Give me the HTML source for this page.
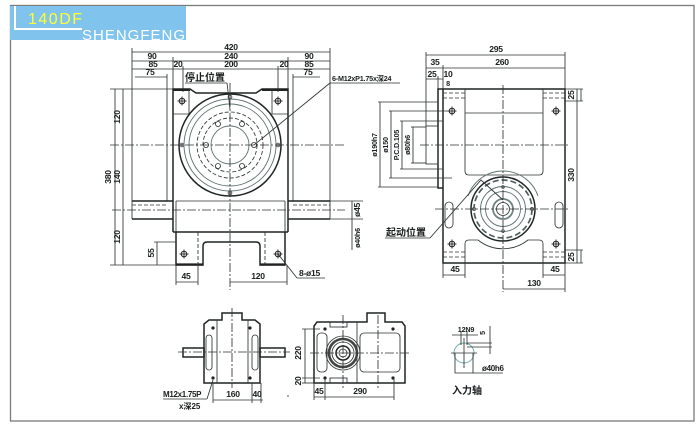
<!DOCTYPE html>
<html><head><meta charset="utf-8">
<style>
html,body{margin:0;padding:0;background:#fff;}
svg{display:block;}
text{font-family:"Liberation Sans","Noto Sans CJK SC",sans-serif;fill:#1a1e1e;}
.d{font-size:8.6px;font-weight:bold;letter-spacing:-0.3px;}
.s{font-size:7.2px;font-weight:bold;letter-spacing:-0.2px;}
.cj{font-size:10px;font-weight:bold;}
.o{stroke:#1e2524;stroke-width:1.5;fill:none;}
.t{stroke:#2c3332;stroke-width:0.85;fill:none;}
.g{stroke:#5d7270;stroke-width:0.9;fill:none;}
.c{stroke:#2c3332;stroke-width:0.85;fill:none;stroke-dasharray:9 2 2 2;}
.h{stroke:#2c3332;stroke-width:0.85;fill:none;stroke-dasharray:4 2;}
</style></head><body>
<svg width="700" height="432" viewBox="0 0 700 432" xmlns="http://www.w3.org/2000/svg">
<defs>
<g id="b"><circle cx="0" cy="0" r="2.8" fill="none" stroke="#222" stroke-width="1"/><line x1="-4.5" y1="0" x2="4.5" y2="0" stroke="#222" stroke-width="0.9"/><line x1="0" y1="-4.5" x2="0" y2="4.5" stroke="#222" stroke-width="0.9"/></g>
</defs>
<rect x="10.5" y="5.5" width="683.5" height="415.5" fill="none" stroke="#7a7a7a" stroke-width="1.3"/>
<!-- title -->
<rect x="10" y="6" width="176" height="34" fill="#80c4ee"/>
<path d="M15,6 L15,29 L82,29" fill="none" stroke="#fff" stroke-width="2"/>
<text x="28" y="24" style="font-size:16px;letter-spacing:1.5px;fill:#ffff2e">140DF</text>
<text x="82" y="40" style="font-size:15px;letter-spacing:1px;fill:#fff">SHENGFENG</text>

<!-- ===== FRONT VIEW ===== -->
<g class="t">
<line x1="132" y1="52" x2="330" y2="52"/>
<line x1="132" y1="61" x2="330" y2="61"/>
<line x1="132" y1="69" x2="330" y2="69"/>
<line x1="135" y1="77" x2="167" y2="77"/>
<line x1="293" y1="77" x2="320" y2="77"/>
<line x1="132" y1="48" x2="132" y2="219"/>
<line x1="330" y1="48" x2="330" y2="219"/>
<line x1="173" y1="57" x2="173" y2="89"/>
<line x1="288" y1="57" x2="288" y2="89"/>
<line x1="183" y1="66" x2="183" y2="92"/>
<line x1="278" y1="66" x2="278" y2="92"/>
<line x1="167" y1="74" x2="167" y2="201"/>
<line x1="293" y1="74" x2="293" y2="201"/>
</g>
<g class="d" text-anchor="middle">
<text x="231" y="50">420</text>
<text x="152" y="59">90</text><text x="231" y="59">240</text><text x="309" y="59">90</text>
<text x="153" y="67">85</text><text x="178" y="67">20</text><text x="231" y="67">200</text><text x="284" y="67">20</text><text x="309" y="67">85</text>
<text x="150" y="75">75</text><text x="308" y="75">75</text>
</g>
<!-- body -->
<path class="o" d="M173,232 L173,89 L190,89 L196,93 L256,93 L262,89 L288,89 L288,232"/>
<line x1="173" y1="90" x2="190" y2="90" stroke="#222" stroke-width="2"/>
<line x1="262" y1="90" x2="288" y2="90" stroke="#222" stroke-width="2"/>
<path class="t" d="M189,89 L189,114 L173,114 M272,89 L272,114 L288,114"/>
<use href="#b" x="182" y="101"/>
<use href="#b" x="278" y="101"/>
<circle class="o" cx="230" cy="145" r="51"/>
<circle class="g" cx="230" cy="145" r="46"/>
<circle class="g" cx="230" cy="145" r="41"/>
<circle class="h" cx="230" cy="145" r="33"/>
<circle class="h" cx="230" cy="145" r="27"/>
<circle class="g" cx="230" cy="145" r="19"/>
<g class="t" stroke-width="1.1">
<circle cx="218" cy="124" r="2.5"/><circle cx="242" cy="124" r="2.5"/>
<circle cx="206" cy="145" r="2.5"/><circle cx="254" cy="145" r="2.5"/>
<circle cx="218" cy="166" r="2.5"/><circle cx="242" cy="166" r="2.5"/>
</g>
<g fill="#999" stroke="#444" stroke-width="0.6">
<circle cx="182" cy="145" r="2"/><circle cx="278" cy="145" r="2"/>
<circle cx="230" cy="97" r="2"/><circle cx="230" cy="193" r="2"/>
</g>
<line class="c" x1="110" y1="145" x2="345" y2="145"/>
<line class="c" x1="230" y1="83" x2="230" y2="290"/>
<!-- band -->
<g class="o">
<line x1="132" y1="201" x2="173" y2="201"/><line x1="288" y1="201" x2="330" y2="201"/>
<line x1="132" y1="219" x2="173" y2="219"/><line x1="288" y1="219" x2="330" y2="219"/>
</g>
<line class="t" x1="176" y1="201" x2="285" y2="201"/>
<line class="t" x1="176" y1="201" x2="176" y2="232"/>
<line class="t" x1="285" y1="201" x2="285" y2="232"/>
<line class="h" x1="132" y1="205" x2="167" y2="205"/>
<line class="h" x1="293" y1="205" x2="330" y2="205"/>
<line class="c" x1="112" y1="210" x2="345" y2="210"/>
<!-- base -->
<line class="o" x1="173" y1="232" x2="288" y2="232"/>
<path class="o" d="M176,232 L176,265 L203,265 L203,246 Q203,242 207,242 L256,242 Q260,242 260,246 L260,265 L285,265 L285,232"/>
<line x1="176" y1="264.5" x2="203" y2="264.5" stroke="#222" stroke-width="2.2"/>
<line x1="260" y1="264.5" x2="285" y2="264.5" stroke="#222" stroke-width="2.2"/>
<line class="h" x1="198" y1="232" x2="198" y2="265"/>
<line class="h" x1="265" y1="232" x2="265" y2="265"/>
<use href="#b" x="184" y="254"/>
<use href="#b" x="278" y="254"/>
<!-- left dims -->
<g class="t">
<line x1="115" y1="89" x2="115" y2="265"/>
<line x1="123" y1="89" x2="123" y2="265"/>
<line x1="110" y1="89" x2="173" y2="89"/>
<line x1="110" y1="265" x2="176" y2="265"/>
<line x1="157" y1="242" x2="157" y2="265"/>
<line x1="154" y1="242" x2="176" y2="242"/>
<line x1="176" y1="265" x2="176" y2="285"/>
<line x1="198" y1="265" x2="198" y2="285"/>
<line x1="287" y1="265" x2="287" y2="285"/>
<line x1="176" y1="282" x2="198" y2="282"/>
<line x1="230" y1="282" x2="287" y2="282"/>
<line x1="278" y1="254" x2="297" y2="278"/>
<line x1="297" y1="278" x2="325" y2="278"/>
<line x1="330" y1="201" x2="363" y2="201"/>
<line x1="330" y1="219" x2="363" y2="219"/>
<line x1="352" y1="201" x2="352" y2="250"/>
<line x1="254" y1="145" x2="330" y2="83"/>
<line x1="330" y1="83" x2="400" y2="83"/>
<line x1="185" y1="83" x2="227" y2="83"/>
<path d="M227,83 L229,100 L230,110"/>
</g>
<g class="d" text-anchor="middle">
<text transform="translate(111,177) rotate(-90)">380</text>
<text transform="translate(120,117) rotate(-90)">120</text>
<text transform="translate(120,177) rotate(-90)">140</text>
<text transform="translate(120,237) rotate(-90)">120</text>
<text transform="translate(154,253) rotate(-90)">55</text>
<text x="186" y="279">45</text>
<text x="258" y="279">120</text>
<text transform="translate(360,210) rotate(-90)">ø45</text>
<text transform="translate(360,238) rotate(-90)" class="s">ø40h6</text>
</g>
<text x="299" y="276" class="d">8-ø15</text>
<text x="332" y="81" style="font-size:7.2px;font-weight:bold;letter-spacing:-0.2px">6-M12xP1.75x深24</text>
<text x="185" y="81" class="cj">停止位置</text>

<!-- ===== SIDE VIEW ===== -->
<rect class="o" x="443" y="89" width="122" height="174"/>
<path class="o" d="M443,89 L438,89 L438,188 L443,188"/>
<rect class="t" x="426" y="126" width="12" height="38"/>
<g class="h">
<line x1="443" y1="93" x2="465" y2="93"/><line x1="443" y1="98" x2="465" y2="98"/>
<line x1="543" y1="93" x2="565" y2="93"/><line x1="543" y1="98" x2="565" y2="98"/>
<line x1="443" y1="252" x2="465" y2="252"/><line x1="443" y1="257" x2="465" y2="257"/>
<line x1="543" y1="252" x2="565" y2="252"/><line x1="543" y1="257" x2="565" y2="257"/>
</g>
<path class="t" d="M465,89 L465,171 Q465,175 469,175 L539,175 Q543,175 543,171 L543,89"/>
<line class="t" x1="465" y1="113" x2="543" y2="113"/>
<use href="#b" x="452" y="111"/><use href="#b" x="556" y="111"/>
<use href="#b" x="452" y="244"/><use href="#b" x="556" y="244"/>
<rect class="t" x="445" y="202" width="8" height="26" rx="4"/>
<rect class="t" x="555" y="202" width="8" height="26" rx="4"/>
<path class="t" d="M465,263 L465,244 Q465,240 469,240 L478,240 A40,40 0 0 0 528,240 L539,240 Q543,240 543,244 L543,263"/>
<path class="g" d="M468,196 A37,37 0 0 1 538,196"/>
<circle class="o" cx="503" cy="209" r="32"/>
<circle cx="503" cy="209" r="29" fill="none" stroke="#4f5f5d" stroke-width="1.7" stroke-dasharray="6 3"/>
<circle class="g" cx="503" cy="209" r="22.5"/>
<circle class="g" cx="503" cy="209" r="17.5"/>
<circle cx="503" cy="209" r="10" fill="none" stroke="#6d8280" stroke-width="1.8"/>
<circle class="t" cx="503" cy="209" r="6.5"/>
<g fill="#888" stroke="#333" stroke-width="0.5">
<circle cx="503" cy="187" r="1.6"/><circle cx="503" cy="231" r="1.6"/>
<circle cx="474" cy="209" r="1.8"/><circle cx="532" cy="209" r="1.8"/>
</g>
<line class="c" x1="503" y1="85" x2="503" y2="292"/>
<line class="c" x1="420" y1="145" x2="570" y2="145"/>
<line class="c" x1="435" y1="209" x2="570" y2="209"/>
<!-- side dims -->
<g class="t">
<line x1="426" y1="55" x2="565" y2="55"/>
<line x1="426" y1="68" x2="565" y2="68"/>
<line x1="426" y1="79" x2="443" y2="79"/>
<line x1="426" y1="52" x2="426" y2="126"/>
<line x1="565" y1="52" x2="565" y2="89"/>
<line x1="443" y1="65" x2="443" y2="89"/>
<line x1="438" y1="76" x2="438" y2="89"/>
<line x1="380" y1="102" x2="380" y2="187"/>
<line x1="378" y1="102" x2="438" y2="102"/><line x1="378" y1="187" x2="438" y2="187"/>
<line x1="391" y1="111" x2="391" y2="178"/>
<line x1="389" y1="111" x2="452" y2="111"/><line x1="389" y1="178" x2="452" y2="178"/>
<line x1="402" y1="121" x2="402" y2="169"/>
<line x1="400" y1="121" x2="443" y2="121"/><line x1="400" y1="169" x2="443" y2="169"/>
<line x1="413" y1="127" x2="413" y2="163"/>
<line x1="411" y1="127" x2="426" y2="127"/><line x1="411" y1="163" x2="426" y2="163"/>
<line x1="577" y1="89" x2="577" y2="263"/>
<line x1="581" y1="89" x2="581" y2="101"/><line x1="581" y1="250" x2="581" y2="263"/>
<line x1="565" y1="89" x2="583" y2="89"/><line x1="565" y1="101" x2="583" y2="101"/>
<line x1="565" y1="250" x2="583" y2="250"/><line x1="565" y1="263" x2="583" y2="263"/>
<line x1="443" y1="263" x2="443" y2="278"/><line x1="465" y1="263" x2="465" y2="278"/>
<line x1="543" y1="263" x2="543" y2="278"/><line x1="565" y1="263" x2="565" y2="292"/>
<line x1="443" y1="275" x2="465" y2="275"/><line x1="543" y1="275" x2="565" y2="275"/>
<line x1="503" y1="289" x2="565" y2="289"/>
<line x1="385" y1="238" x2="430" y2="238"/>
<path d="M430,238 L481,180 L503,200"/>
</g>
<g class="d" text-anchor="middle">
<text x="496" y="52">295</text>
<text x="502" y="65">260</text>
<text x="435" y="65">35</text>
<text x="432" y="77">25</text>
<text x="448" y="77">10</text>
<text x="448" y="86" class="s">8</text>
<text transform="translate(574,175) rotate(-90)">330</text>
<text transform="translate(574,95) rotate(-90)">25</text>
<text transform="translate(574,257) rotate(-90)">25</text>
<text x="455" y="272">45</text>
<text x="555" y="272">45</text>
<text x="534" y="286">130</text>
<text transform="translate(377,145) rotate(-90)" class="s">ø190h7</text>
<text transform="translate(388,145) rotate(-90)" class="s">ø150</text>
<text transform="translate(399,145) rotate(-90)" class="s">P.C.D.105</text>
<text transform="translate(410,145) rotate(-90)" class="s">ø80h6</text>
</g>
<text x="386" y="236" class="cj">起动位置</text>

<!-- ===== BOTTOM LEFT VIEW ===== -->
<path class="o" d="M204,383 L204,324 L209,320 L222,320 L222,313 L242,313 L242,320 L255,320 L260,324 L260,383 Z"/>
<line class="t" x1="217" y1="320" x2="217" y2="383"/>
<line class="t" x1="248" y1="320" x2="248" y2="383"/>
<rect class="t" x="206" y="335" width="6" height="35" rx="3"/>
<rect class="t" x="252" y="335" width="6" height="35" rx="3"/>
<rect class="o" x="183" y="348" width="21" height="9"/>
<rect class="o" x="260" y="348" width="25" height="9"/>
<line class="c" x1="232" y1="308" x2="232" y2="388"/>
<line class="c" x1="178" y1="352" x2="290" y2="352"/>
<g fill="#222">
<circle cx="213" cy="328" r="1.6"/><circle cx="250" cy="328" r="1.6"/>
<circle cx="213" cy="378" r="1.6"/><circle cx="250" cy="378" r="1.6"/>
</g>
<g class="t">
<line x1="213" y1="400" x2="263" y2="400"/>
<line x1="213" y1="383" x2="213" y2="403"/>
<line x1="252" y1="383" x2="252" y2="403"/>
<line x1="261" y1="383" x2="261" y2="403"/>
<line x1="213" y1="380" x2="207" y2="399"/>
<line x1="163" y1="399" x2="207" y2="399"/>
</g>
<text x="233" y="397" class="d" text-anchor="middle">160</text>
<text x="257" y="397" class="d" text-anchor="middle">40</text>
<text x="163" y="397" style="font-size:8px;font-weight:bold;letter-spacing:-0.3px">M12x1.75P</text>
<text x="179" y="409" style="font-size:8px;font-weight:bold">x深25</text>
<circle cx="288" cy="396" r="0.8" fill="#444"/>

<!-- ===== BOTTOM MIDDLE VIEW ===== -->
<path class="o" d="M314,383 L314,326 L317,322 L367,322 L367,313 L385,313 L385,322 L402,322 L405,326 L405,383 Z"/>
<rect class="t" x="317" y="333" width="10" height="39" rx="4"/>
<rect class="t" x="360" y="333" width="40" height="39" rx="4"/>
<rect class="t" x="330" y="322" width="17" height="5"/>
<rect class="t" x="330" y="378" width="17" height="5"/>
<line class="t" x1="357" y1="322" x2="357" y2="383"/>
<circle class="t" cx="343" cy="353" r="17"/>
<circle cx="343" cy="353" r="14" fill="none" stroke="#444" stroke-width="2.6"/>
<circle class="t" cx="343" cy="353" r="11"/>
<circle class="o" cx="343" cy="353" r="7"/>
<circle class="t" cx="343" cy="353" r="4"/>
<line class="c" x1="310" y1="353" x2="410" y2="353"/>
<line class="c" x1="343" y1="315" x2="343" y2="390"/>
<line class="c" x1="378" y1="315" x2="378" y2="390"/>
<g fill="#222">
<circle cx="325" cy="329" r="1.6"/><circle cx="393" cy="329" r="1.6"/>
<circle cx="325" cy="378" r="1.6"/><circle cx="393" cy="378" r="1.6"/>
</g>
<g class="t">
<line x1="305" y1="329" x2="305" y2="383"/>
<line x1="302" y1="329" x2="320" y2="329"/>
<line x1="302" y1="378" x2="320" y2="378"/>
<line x1="302" y1="383" x2="314" y2="383"/>
<line x1="314" y1="397" x2="394" y2="397"/>
<line x1="314" y1="383" x2="314" y2="400"/>
<line x1="325" y1="378" x2="325" y2="400"/>
<line x1="394" y1="378" x2="394" y2="400"/>
</g>
<text transform="translate(301,353) rotate(-90)" class="d" text-anchor="middle">220</text>
<text transform="translate(301,381) rotate(-90)" class="d" text-anchor="middle">20</text>
<text x="319" y="394" class="d" text-anchor="middle">45</text>
<text x="360" y="394" class="d" text-anchor="middle">290</text>

<!-- ===== INPUT SHAFT ===== -->
<circle cx="464" cy="353" r="10" fill="none" stroke="#6aa8a8" stroke-width="0.9"/>
<g class="t">
<path d="M455,353 L455,373 L473,373 L473,353"/>
<line x1="473" y1="373" x2="503" y2="373"/>
<line x1="464" y1="338" x2="464" y2="368"/>
<line x1="451" y1="353" x2="477" y2="353"/>
<line x1="461" y1="331" x2="461" y2="345"/>
<line x1="467" y1="331" x2="467" y2="345"/>
<line x1="467" y1="343" x2="492" y2="343"/>
<line x1="467" y1="347" x2="492" y2="347"/>
<line x1="452" y1="335" x2="478" y2="335"/>
<line x1="490" y1="326" x2="490" y2="354"/>
</g>
<text x="466" y="332" class="s" text-anchor="middle">12N9</text>
<text transform="translate(485,333) rotate(-90)" class="s" text-anchor="middle">5</text>
<text x="482" y="371" style="font-size:8px;font-weight:bold;letter-spacing:-0.3px">ø40h6</text>
<text x="452" y="394" class="cj">入力轴</text>
</svg>
</body></html>
